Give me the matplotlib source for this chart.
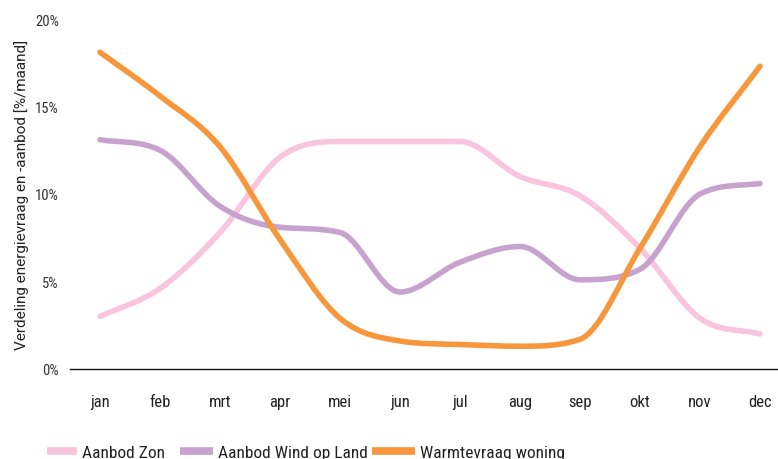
import numpy as np
import matplotlib
matplotlib.use("Agg")
import matplotlib.pyplot as plt
from matplotlib.path import Path
from matplotlib.patches import PathPatch
from matplotlib.lines import Line2D
from matplotlib import font_manager

installed = {f.name for f in font_manager.fontManager.ttflist}
narrow = next((n for n in ['Roboto Condensed', 'Liberation Sans Narrow', 'Roboto'] if n in installed), 'DejaVu Sans')
plt.rcParams['font.family'] = [narrow, 'DejaVu Sans']

months = ['jan', 'feb', 'mrt', 'apr', 'mei', 'jun', 'jul', 'aug', 'sep', 'okt', 'nov', 'dec']
zon = [3.0, 4.6, 7.8, 12.1, 13.0, 13.0, 13.0, 11.0, 9.9, 6.9, 2.9, 2.0]
wind = [13.1, 12.5, 9.3, 8.1, 7.8, 4.4, 6.1, 7.0, 5.1, 5.7, 10.0, 10.6]
warmte = [18.1, 15.6, 12.7, 7.4, 2.9, 1.6, 1.4, 1.3, 1.7, 6.9, 12.7, 17.3]
labels = ['Aanbod Zon', 'Aanbod Wind op Land', 'Warmtevraag woning']
colors = ['#F8C4DE', '#C8A2CE', '#F7963A']
yticks = [0, 5, 10, 15, 20]


def monotone_path(xs, ys):
    xs = np.asarray(xs, float)
    ys = np.asarray(ys, float)
    n = len(xs)
    d = np.diff(ys) / np.diff(xs)
    m = np.zeros(n)
    m[0] = d[0]
    m[-1] = d[-1]
    for i in range(1, n - 1):
        if d[i - 1] * d[i] <= 0:
            m[i] = 0
        else:
            m[i] = (d[i - 1] + d[i]) / 2
    for i in range(n - 1):
        if d[i] == 0:
            m[i] = m[i + 1] = 0
            continue
        a, b = m[i] / d[i], m[i + 1] / d[i]
        s = a * a + b * b
        if s > 9:
            t = 3 / np.sqrt(s)
            m[i] = t * a * d[i]
            m[i + 1] = t * b * d[i]
    verts = [(xs[0], ys[0])]
    codes = [Path.MOVETO]
    for i in range(n - 1):
        h = xs[i + 1] - xs[i]
        verts += [(xs[i] + h / 3, ys[i] + m[i] * h / 3),
                  (xs[i + 1] - h / 3, ys[i + 1] - m[i + 1] * h / 3),
                  (xs[i + 1], ys[i + 1])]
        codes += [Path.CURVE4] * 3
    return Path(verts, codes)


fig = plt.figure(figsize=(7.78, 4.6), dpi=100)
ax = fig.add_axes([70 / 778, 1 - 370 / 460, 708 / 778, 350 / 460])

x = np.arange(len(months))
for vals, c in zip([zon, wind, warmte], colors):
    p = PathPatch(monotone_path(x, vals), facecolor='none', edgecolor=c,
                  lw=4.0, capstyle='round', joinstyle='round')
    ax.add_patch(p)

ax.set_xlim(-0.5, 11.3)
ax.set_ylim(0, 20)
ax.set_xticks(x)
ax.set_xticklabels(months, fontsize=12, color='#222222')
ax.set_yticks(yticks)
ax.set_yticklabels([f'{v}%' for v in yticks], fontsize=10.5, color='#333333')
ax.tick_params(axis='both', length=0)
ax.tick_params(axis='x', pad=18)
ax.tick_params(axis='y', pad=8)
for s in ['top', 'right', 'left']:
    ax.spines[s].set_visible(False)
ax.spines['bottom'].set_color('#111111')
ax.spines['bottom'].set_linewidth(1.0)
ax.set_ylabel('Verdeling energievraag en -aanbod [%/maand]', fontsize=11, color='#222222',
              labelpad=4, family=['Roboto', 'DejaVu Sans'])

fs = 12.5
fpx = fs * 100 / 72
starts = [47, 180, 372]
hwid = [30, 33, 43]
for lab, c, sx, hw in zip(labels, colors, starts, hwid):
    h = Line2D([], [], color=c, lw=5.5, solid_capstyle='butt')
    fig.legend([h], [lab], loc='center left', bbox_to_anchor=(sx / 778, 7 / 460),
               frameon=False, fontsize=fs, handlelength=hw / fpx, handletextpad=5 / fpx,
               borderaxespad=0, borderpad=0, labelcolor='#222222')

fig.savefig('out.png', dpi=100)
